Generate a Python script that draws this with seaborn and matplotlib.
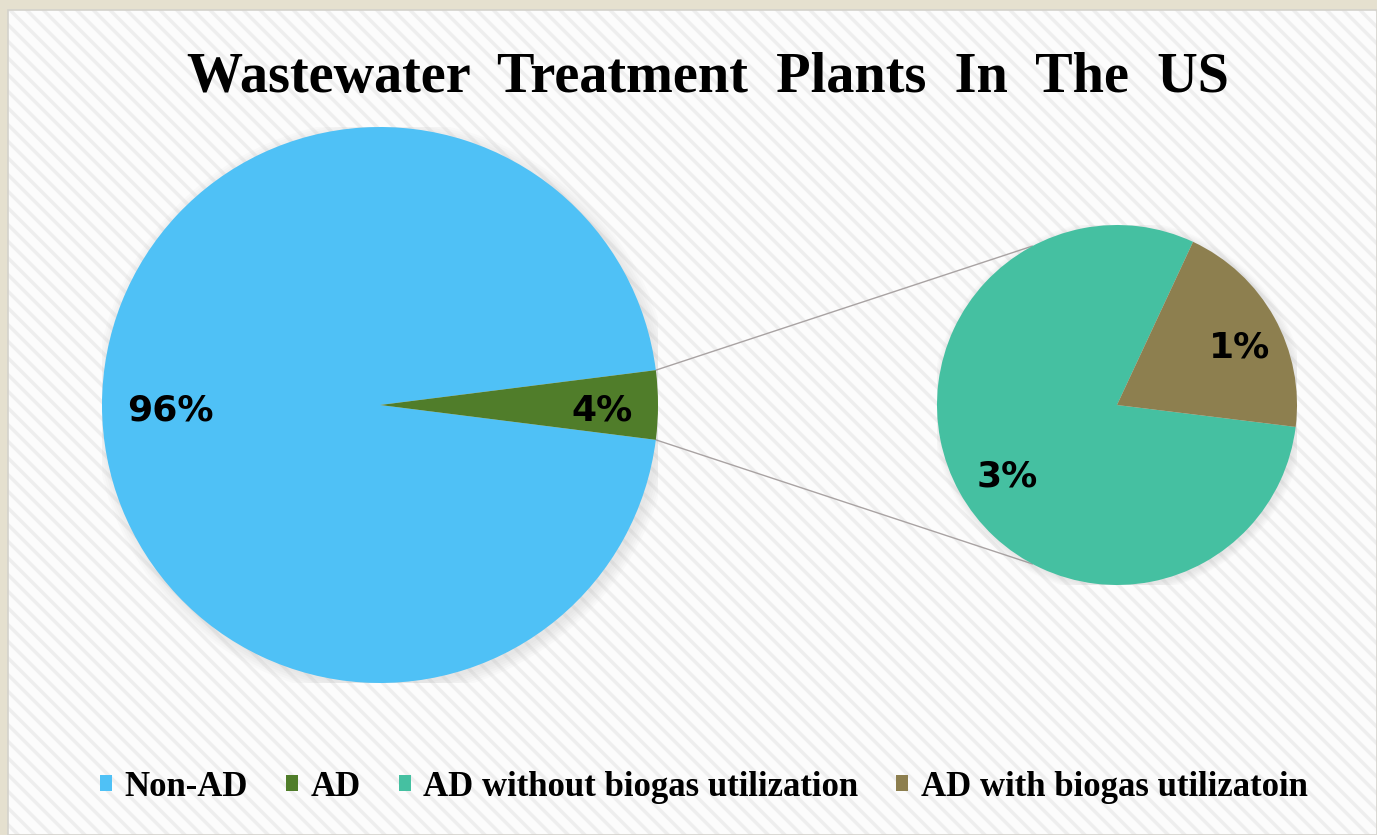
import numpy as np
import seaborn as sns
import matplotlib.pyplot as plt
from matplotlib.patches import Rectangle, ConnectionPatch, Circle

sns.set_theme(style="white")
plt.rcParams["hatch.linewidth"] = 2.5

# data (percent of all US wastewater treatment plants)
main_labels = ["Non-AD", "AD"]
main_values = [96, 4]
sub_labels = ["AD without biogas utilization", "AD with biogas utilizatoin"]
sub_values = [3.2, 0.8]

main_colors = ["#4fc1f6", "#507d2a"]
sub_colors = ["#45c0a1", "#8d7f4f"]

def pct(v):
    return "{:.0f}%".format(v)

fig = plt.figure(figsize=(13.77, 8.35), dpi=100)
fig.patch.set_facecolor("#e5e0cf")

# striped panel behind the chart
panel = Rectangle((8 / 1377, 0), 1 - 8 / 1377, 1 - 10 / 835, transform=fig.transFigure,
                  facecolor="#fcfcfc", edgecolor="#eeeeee", hatch="\\\\", lw=0, zorder=-2)
fig.patches.append(panel)
border = Rectangle((8 / 1377, 0), 1 - 8 / 1377, 1 - 10 / 835, transform=fig.transFigure,
                   facecolor="none", edgecolor="#d4d2cc", lw=1.2, zorder=-1)
fig.patches.append(border)

ax1 = fig.add_axes([102 / 1377, 152 / 835, 556 / 1377, 556 / 835])
ax2 = fig.add_axes([937 / 1377, 250 / 835, 360 / 1377, 360 / 835])
for ax in (ax1, ax2):
    ax.set_facecolor("none")
    ax.patch.set_alpha(0)
    # soft shadow round the pie
    for k in range(6):
        ax.add_patch(Circle((0.012, -0.012), 1.0 + 0.008 * k, color="#9a9a9a", alpha=0.035,
                            lw=0, zorder=0))

total = sum(main_values)
start1 = 180 * main_values[1] / total
wedges1, _ = ax1.pie(main_values, colors=main_colors, startangle=start1, radius=1,
                     wedgeprops=dict(linewidth=0, zorder=2))
wedges2, _ = ax2.pie(sub_values, colors=sub_colors, startangle=65, radius=1,
                     wedgeprops=dict(linewidth=0, zorder=2))

lab_font = dict(family=["DejaVu Sans"], fontsize=26, fontweight="bold", color="black", zorder=3)
for w, v, d in zip(wedges1, main_values, [0.755, 0.80]):
    a = np.deg2rad((w.theta1 + w.theta2) / 2)
    ax1.text(d * np.cos(a), d * np.sin(a) - 0.02, pct(v), ha="center", va="center", **lab_font)
for w, v, d in zip(wedges2, sub_values, [0.70, 0.78]):
    a = np.deg2rad((w.theta1 + w.theta2) / 2)
    ax2.text(d * np.cos(a), d * np.sin(a) - 0.06, pct(v), ha="center", va="center", **lab_font)

for ax in (ax1, ax2):
    ax.set_xlim(-1, 1)
    ax.set_ylim(-1, 1)
    ax.set_aspect("equal")
    ax.axis("off")

# connector lines from the AD wedge to the breakdown pie
ad = wedges1[1]
for th1, th2 in [(ad.theta2, 118), (ad.theta1, -118)]:
    p1 = (np.cos(np.deg2rad(th1)), np.sin(np.deg2rad(th1)))
    p2 = (np.cos(np.deg2rad(th2)), np.sin(np.deg2rad(th2)))
    con = ConnectionPatch(xyA=p1, coordsA=ax1.transData, xyB=p2, coordsB=ax2.transData,
                          color="#a9a3a3", lw=1.0, zorder=0)
    fig.add_artist(con)

fig.text(0.514, 1 - 78 / 835, "Wastewater  Treatment  Plants  In  The  US", ha="center", va="center",
         family=["Liberation Serif", "DejaVu Serif"], fontweight="bold", fontsize=40.5, color="black")

handles = list(wedges1) + list(wedges2)
leg = fig.legend(handles, main_labels + sub_labels, loc="center", bbox_to_anchor=(0.511, 1 - 787 / 835),
                 ncol=4, frameon=False, handlelength=0.35, handleheight=0.35, handletextpad=0.35,
                 columnspacing=1.1,
                 prop=dict(family=["Liberation Serif", "DejaVu Serif"], weight="bold", size=25))
for t in leg.get_texts():
    t.set_color("black")

fig.savefig("out.png", dpi=100, facecolor=fig.get_facecolor())
